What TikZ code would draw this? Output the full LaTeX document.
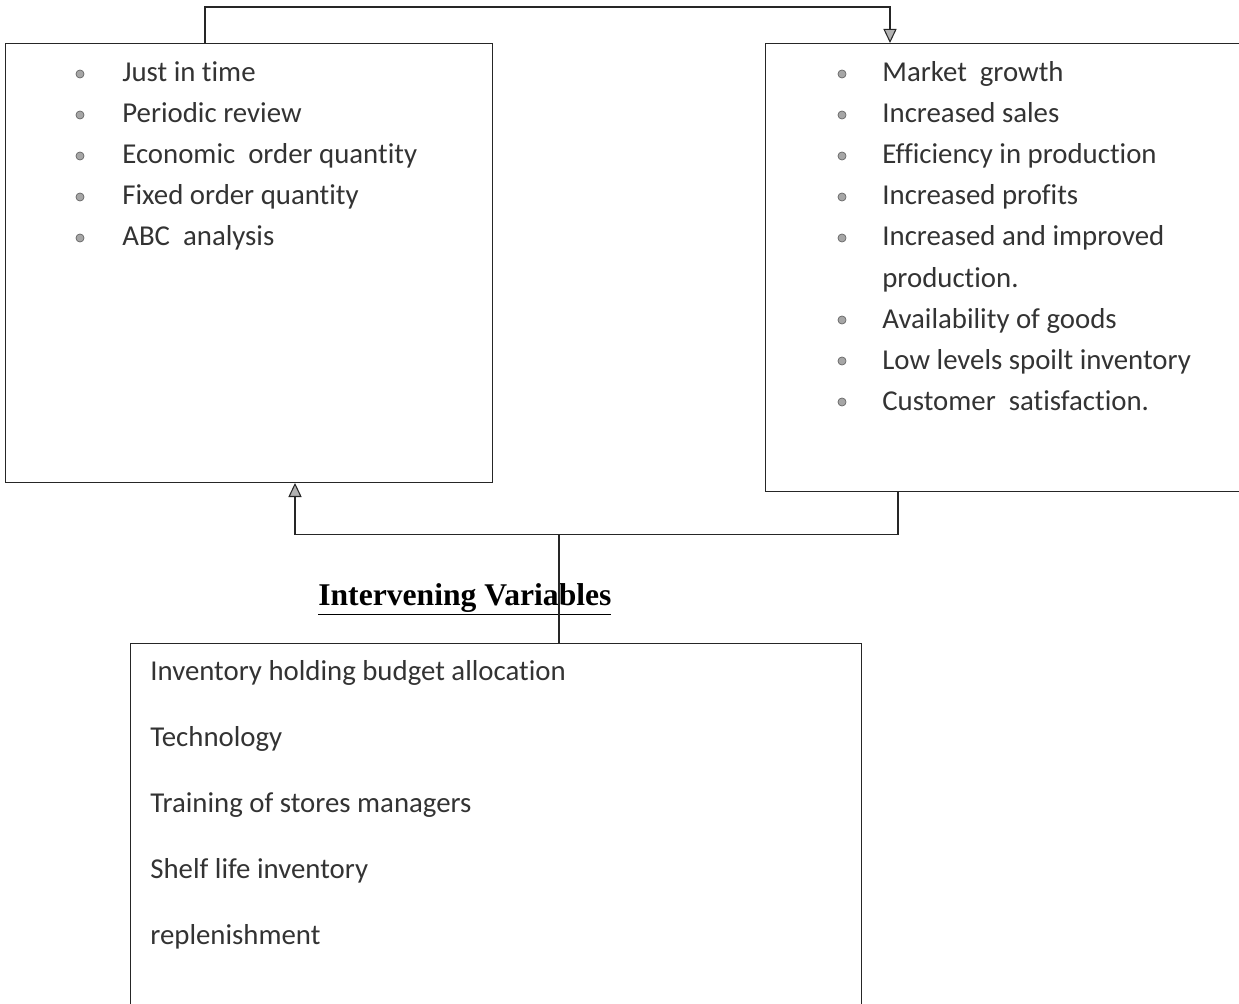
\documentclass[tikz,border=0pt]{standalone}
\usepackage{fontspec}
\setmainfont{Carlito}[Ligatures=NoCommon]
\newfontfamily\titlefont{Liberation Serif}
\usetikzlibrary{arrows.meta, positioning, calc}
\tikzstyle{varbox} = [rectangle, draw=black!85, line width=0.6pt,
                      anchor=north west, inner sep=0pt]
\tikzstyle{item}   = [anchor=base west, inner sep=0pt, text=black!80,
                      font=\fontsize{16.4}{19}\selectfont]
\tikzstyle{dot}    = [circle, fill=gray!70, draw=black!60, line width=0.4pt,
                      inner sep=0pt, minimum size=4.6pt]
\tikzstyle{link}   = [line width=0.6pt, draw=black!85]
\tikzstyle{arr}    = [link, -{Triangle[length=8pt, width=7.5pt, fill=gray!60]}]

\begin{document}
\begin{tikzpicture}[x=0.02cm, y=-0.02cm]
  \useasboundingbox (0,0) rectangle (1239,1003);

  %% Boxes
  \node[varbox, minimum width=9.74cm, minimum height=8.78cm] (indep) at (5,43) {};
  \node[varbox, minimum width=9.8cm,  minimum height=8.96cm] (dep) at (765,43) {};
  \node[varbox, minimum width=14.62cm, minimum height=7.4cm] (interv) at (130,643) {};

  %% Independent variables
  \foreach \t [count=\i from 0] in {Just in time, Periodic review,
      Economic\ \ order quantity, Fixed order quantity, ABC\ \ analysis} {
    \node[dot] at (80,{74+41*\i}) {};
    \node[item] (ind-\i) at (122,{82+41*\i}) {\t};
  }

  %% Dependent variables
  \foreach \t/\b [count=\i from 0] in {Market\ \ growth/1, Increased sales/1,
      Efficiency in production/1, Increased profits/1,
      Increased and improved/1, production./0, Availability of goods/1,
      Low levels spoilt inventory/1, Customer\ \ satisfaction./1} {
    \ifnum\b=1 \node[dot] at (842,{74+41*\i}) {};\fi
    \node[item] (dep-\i) at (882,{82+41*\i}) {\t};
  }

  %% Intervening variables
  \node[anchor=base west, inner sep=0pt, font=\titlefont\fontsize{18}{20}\selectfont\bfseries]
      (title) at (318,605) {\underline{Intervening Variables}};
  \foreach \t [count=\i from 0] in {Inventory holding budget allocation,
      Technology, Training of stores managers, Shelf life inventory,
      replenishment} {
    \node[item] (int-\i) at (150,{680+66*\i}) {\t};
  }

  %% Connectors
  \draw[arr] ($(indep.north west)+(200,0)$) -- ++(0,-36)
      -| ($(dep.north west)+(125,0)$);
  \draw[arr] ($(dep.south west)+(133,0)$) -- ++(0,43) coordinate (fb)
      -| ($(indep.south west)+(290,0)$);
  \draw[link] ($(interv.north west)+(429,0)$) coordinate (tap) -- (tap |- fb);

\end{tikzpicture}
\end{document}
